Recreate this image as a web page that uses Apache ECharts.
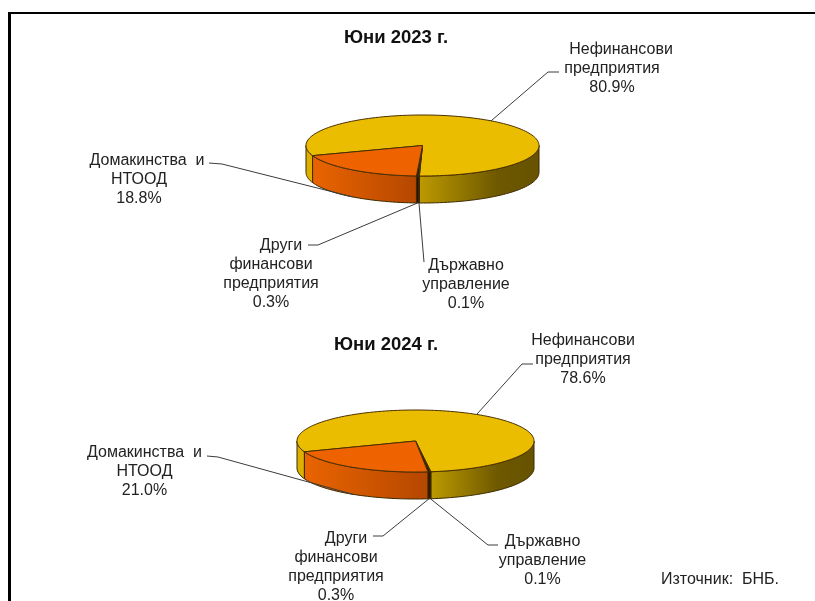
<!DOCTYPE html>
<html>
<head>
<meta charset="utf-8">
<title>Юни 2023 г. / Юни 2024 г.</title>
<script src="https://cdn.jsdelivr.net/npm/echarts@6/dist/echarts.min.js"></script>
<style>
    html, body { margin: 0; padding: 0; background: #fff; }
    #main { width: 815px; height: 601px; }
</style>
</head>
<body>
<div id="main"></div>
<script>
var titles = ['Юни 2023 г.', 'Юни 2024 г.'];
// order is clockwise from the start of the big slice
var categories = ['Нефинансови предприятия', 'Държавно управление', 'Други финансови предприятия', 'Домакинства и НТООД'];
var names = ['Нефинансови\nпредприятия', 'Държавно\nуправление', 'Други\nфинансови\nпредприятия', 'Домакинства  и\nНТООД'];
var values2023 = [80.9, 0.1, 0.3, 18.8];
var values2024 = [78.6, 0.1, 0.3, 21.0];
var sourceText = 'Източник:  БНБ.';

var FONT = '"Liberation Sans", Arial, sans-serif';
var topColors = ['#ebbd00', '#1a1000', '#2a1000', '#ee6300'];

// pie placement + where the labels and their elbows sit
// shifts: the first line of a label is not quite centred in the original
var pies = [
    {
        cx: 422.5, cy: 145.5, rx: 116.5, ry: 30.5, depth: 27, start: 250.6,
        labels: [[612, 69], [466, 285], [271, 274], [139, 180]],
        shifts: [9, 0, 10, 8],
        elbows: [[[548, 72], [559, 72]], [[424, 262], [424, 262]], [[318, 245], [308, 245]], [[222, 164], [209, 163]]]
    },
    {
        cx: 415.5, cy: 441, rx: 118.5, ry: 31, depth: 27, start: 249.6,
        labels: [[583, 360], [542.5, 560.5], [336, 567], [144.5, 472]],
        shifts: [0, 0, 10, 0],
        elbows: [[[522, 364], [533, 364]], [[488, 545], [498, 545]], [[383, 536], [373, 536]], [[218, 457], [207, 456]]]
    }
];

function edge(p, deg, down) {
    var a = deg * Math.PI / 180;
    return [p.cx + p.rx * Math.sin(a), p.cy - p.ry * Math.cos(a) + (down ? p.depth : 0)];
}

function arc(p, from, to, down) {
    var pts = [];
    var n = Math.max(2, Math.ceil(Math.abs(to - from) / 2));
    for (var i = 0; i <= n; i++) {
        pts.push(edge(p, from + (to - from) * i / n, down));
    }
    return pts;
}

function gradient(stops) {
    var list = [];
    for (var i = 0; i < stops.length; i++) {
        list.push({ offset: stops[i][0], color: stops[i][1] });
    }
    return new echarts.graphic.LinearGradient(0, 0, 1, 0, list);
}

// the front wall of a slice, only between 90 and 270 degrees
function walls(p, from, to, idx) {
    var out = [];
    for (var k = 0; k < 2; k++) {
        var a = Math.max(from, 90 + k * 360);
        var b = Math.min(to, 270 + k * 360);
        if (b <= a) continue;
        var fill = topColors[idx];
        if (idx === 0) {
            // left strip is flat, right part runs to dark
            fill = k === 0 ? '#dcb000' : gradient([[0, '#bd9a00'], [0.65, '#6e5800'], [1, '#665200']]);
        } else if (idx === 3) {
            fill = gradient([[0, '#ea6400'], [1, '#b54700']]);
        }
        out.push({
            type: 'polygon',
            shape: { points: arc(p, a, b, false).concat(arc(p, b, a, true)) },
            style: { fill: fill, stroke: '#3d2a00', lineWidth: 1 }
        });
    }
    return out;
}

function makeRenderItem(p, values) {
    var total = 0;
    for (var i = 0; i < values.length; i++) total += values[i];

    return function (params, api) {
        var idx = params.dataIndex;
        var before = 0;
        for (var i = 0; i < idx; i++) before += values[i];
        var from = p.start + echarts.number.linearMap(before, [0, total], [0, 360]);
        var to = from + echarts.number.linearMap(api.value(0), [0, total], [0, 360]);
        var mid = ((from + to) / 2) % 360;
        var front = mid > 90 && mid < 270;

        var children = walls(p, from, to, idx);
        children.push({
            type: 'polygon',
            shape: { points: [[p.cx, p.cy]].concat(arc(p, from, to, false)) },
            style: { fill: topColors[idx], stroke: '#4a3000', lineWidth: 1 }
        });
        children.push({
            type: 'polyline',
            shape: { points: [edge(p, mid, front)].concat(p.elbows[idx]) },
            style: { fill: 'none', stroke: '#3c3c3c', lineWidth: 1 }
        });

        var lines = names[idx].split('\n').concat(api.value(0).toFixed(1) + '%');
        for (var j = 0; j < lines.length; j++) {
            children.push({
                type: 'text',
                style: {
                    x: p.labels[idx][0] + (j === 0 ? p.shifts[idx] : 0),
                    y: p.labels[idx][1] + (j - (lines.length - 1) / 2) * 19,
                    text: lines[j],
                    align: 'center',
                    verticalAlign: 'middle',
                    fill: '#222',
                    fontFamily: FONT,
                    fontSize: 16
                }
            });
        }
        return { type: 'group', children: children };
    };
}

function toData(values) {
    var out = [];
    for (var i = 0; i < values.length; i++) {
        out.push({ name: categories[i], value: [values[i]] });
    }
    return out;
}

var myChart = echarts.init(document.getElementById('main'));
var option = {
    backgroundColor: '#fff',
    animation: false,
    title: [
        { text: titles[0], left: 391, top: 23, textAlign: 'center', textStyle: { color: '#111', fontSize: 18.5, fontWeight: 'bold', fontFamily: FONT } },
        { text: titles[1], left: 381, top: 330, textAlign: 'center', textStyle: { color: '#111', fontSize: 18.5, fontWeight: 'bold', fontFamily: FONT } }
    ],
    graphic: [
        { type: 'line', shape: { x1: 8, y1: 13, x2: 815, y2: 13 }, style: { stroke: '#000', lineWidth: 2 } },
        { type: 'line', shape: { x1: 9.5, y1: 12, x2: 9.5, y2: 601 }, style: { stroke: '#000', lineWidth: 3 } },
        { type: 'text', style: { x: 661, y: 580, text: sourceText, verticalAlign: 'middle', fill: '#222', fontFamily: FONT, fontSize: 16 } }
    ],
    series: [
        { type: 'custom', coordinateSystem: 'none', renderItem: makeRenderItem(pies[0], values2023), data: toData(values2023), silent: true },
        { type: 'custom', coordinateSystem: 'none', renderItem: makeRenderItem(pies[1], values2024), data: toData(values2024), silent: true }
    ]
};
myChart.setOption(option);
</script>
</body>
</html>
